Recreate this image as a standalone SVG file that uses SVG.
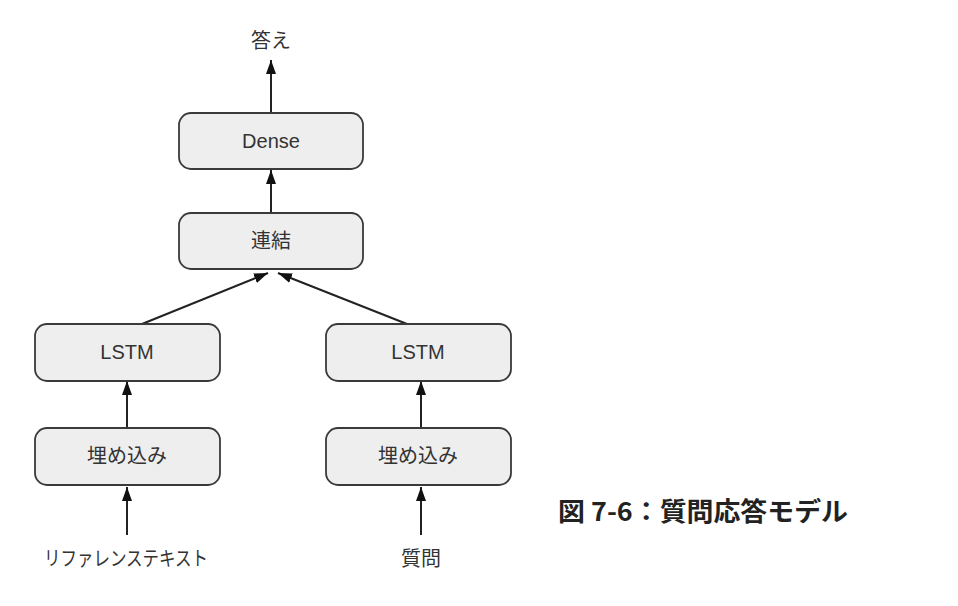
<svg xmlns="http://www.w3.org/2000/svg" width="958" height="606" viewBox="0 0 958 606">
<defs>
<style>
.box{fill:#eeeeee;stroke:#3a3a3a;stroke-width:1.8}
.t{font-family:"Liberation Sans","Noto Sans CJK JP",sans-serif;font-size:20px;fill:#333;text-anchor:middle}
.c{stroke:#222;stroke-width:2;fill:none;marker-end:url(#ah)}
</style>
<marker id="ah" viewBox="0 0 14 10" refX="14" refY="5" markerWidth="14" markerHeight="10" markerUnits="userSpaceOnUse" orient="auto">
<path d="M0,0 L14,5 L0,10 z" fill="#111"/>
</marker>
</defs>
<rect width="958" height="606" fill="#fff"/>
<g id="connectors">
<line class="c" x1="271" y1="113" x2="271" y2="60"/>
<line class="c" x1="271" y1="213" x2="271" y2="170"/>
<line class="c" x1="142" y1="324" x2="268" y2="273"/>
<line class="c" x1="407" y1="324" x2="278" y2="273"/>
<line class="c" x1="127" y1="428" x2="127" y2="381"/>
<line class="c" x1="421" y1="428" x2="421" y2="381"/>
<line class="c" x1="127" y1="535" x2="127" y2="487"/>
<line class="c" x1="421" y1="535" x2="421" y2="487"/>
</g>
<g id="answer"><text class="t" x="271" y="48">答え</text></g>
<g id="dense"><rect class="box" x="179" y="113" width="184" height="56" rx="12"/><text class="t" x="271" y="148">Dense</text></g>
<g id="concat"><rect class="box" x="179" y="213" width="184" height="56" rx="12"/><text class="t" x="271" y="248">連結</text></g>
<g id="lstm1"><rect class="box" x="35" y="324" width="185" height="57" rx="12"/><text class="t" x="127" y="359">LSTM</text></g>
<g id="lstm2"><rect class="box" x="326" y="324" width="185" height="57" rx="12"/><text class="t" x="418" y="359">LSTM</text></g>
<g id="emb1"><rect class="box" x="35" y="428" width="185" height="57" rx="12"/><text class="t" x="127" y="463">埋め込み</text></g>
<g id="emb2"><rect class="box" x="326" y="428" width="185" height="57" rx="12"/><text class="t" x="418" y="463">埋め込み</text></g>
<g id="reftext"><text class="t" x="126" y="566" textLength="164" lengthAdjust="spacingAndGlyphs">リファレンステキスト</text></g>
<g id="question"><text class="t" x="421" y="566">質問</text></g>
<g id="caption"><text x="558" y="521" textLength="290" lengthAdjust="spacingAndGlyphs" style="font-family:'Noto Sans CJK JP',sans-serif;font-size:26px;font-weight:600;fill:#222">図 7-6：質問応答モデル</text></g>
</svg>
